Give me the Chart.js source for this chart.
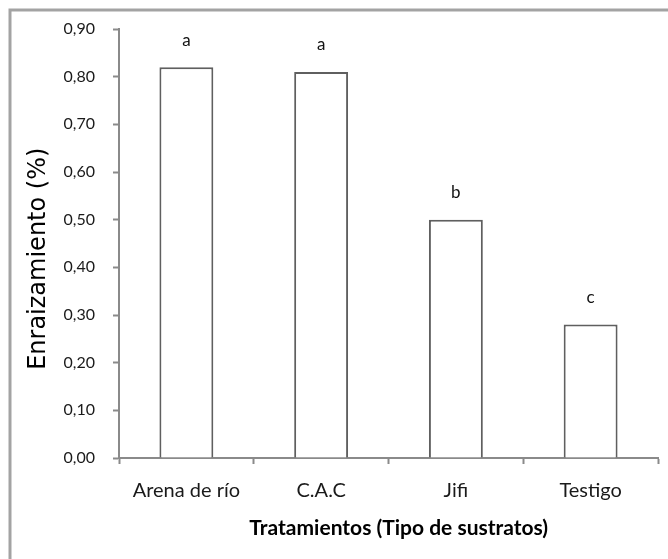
<!DOCTYPE html>
<html>
<head>
<meta charset="utf-8">
<script src="https://cdn.jsdelivr.net/npm/chart.js@4"></script>
<style>
  body { margin: 0; background: #fff; }
  #wrap { position: relative; width: 668px; height: 559px; }
</style>
</head>
<body>
<div id="wrap"><canvas id="myChart"></canvas></div>
<script>
// data
const categories = ['Arena de río', 'C.A.C', 'Jifi', 'Testigo'];
const enraizamiento = [0.82, 0.81, 0.50, 0.28];
const letras = ['a', 'a', 'b', 'c'];

// grey frame around the whole figure (runs off the right and bottom edge)
const frame = {
  id: 'frame',
  beforeDraw(chart) {
    const ctx = chart.ctx;
    ctx.save();
    ctx.strokeStyle = '#a3a3a3';
    ctx.lineWidth = 3;
    ctx.strokeRect(10, 10, 720, 620);
    ctx.restore();
  }
};

// significance letters over each bar
const letters = {
  id: 'letters',
  afterDatasetsDraw(chart) {
    const ctx = chart.ctx;
    const meta = chart.getDatasetMeta(0);
    ctx.save();
    ctx.font = '17px Lato';
    ctx.fillStyle = '#111';
    ctx.textAlign = 'center';
    ctx.textBaseline = 'middle';
    meta.data.forEach((bar, i) => {
      ctx.fillText(letras[i], bar.x, bar.y - 27);
    });
    ctx.restore();
  }
};

var ctx = document.getElementById('myChart').getContext('2d');
var myChart = new Chart(ctx, {
  type: 'bar',
  data: {
    labels: categories,
    datasets: [{
      data: enraizamiento,
      backgroundColor: '#ffffff',
      borderColor: '#5f5f5f',
      borderWidth: 2,
      barPercentage: 0.4,
      categoryPercentage: 1.0
    }]
  },
  plugins: [frame, letters],
  options: {
    responsive: true,
    maintainAspectRatio: false,
    animation: false,
    layout: { padding: { top: 29, right: 10, left: 0, bottom: 0 } },
    plugins: {
      legend: { display: false },
      tooltip: { enabled: false }
    },
    scales: {
      x: {
        afterFit(scale) { scale.height = 101; },
        grid: {
          display: true,
          drawOnChartArea: false,
          drawTicks: true,
          tickLength: 6,
          tickWidth: 2,
          color: '#8a8a8a',
          offset: true
        },
        border: { color: '#8a8a8a', width: 2 },
        ticks: {
          color: '#1a1a1a',
          font: { family: 'Lato', size: 20 },
          padding: 15
        },
        title: {
          display: true,
          // leading spaces nudge the title a little right, as in the original
          text: '    Tratamientos (Tipo de sustratos)',
          color: '#000',
          font: { family: 'Lato', size: 21, weight: 'bold' },
          padding: { top: 0, bottom: 18 }
        }
      },
      y: {
        min: 0,
        max: 0.9,
        afterFit(scale) { scale.width = 119; },
        grid: {
          display: true,
          drawOnChartArea: false,
          drawTicks: true,
          tickLength: 6,
          tickWidth: 2,
          color: '#8a8a8a'
        },
        border: { color: '#8a8a8a', width: 2 },
        ticks: {
          stepSize: 0.1,
          color: '#1a1a1a',
          font: { family: 'Lato', size: 16 },
          padding: 18,
          callback: (v) => v.toFixed(2).replace('.', ',')
        },
        title: {
          display: true,
          // trailing spaces nudge the title a little down
          text: 'Enraizamiento (%)    ',
          color: '#000',
          font: { family: 'DejaVu Sans', size: 24 },
          padding: { top: 24, bottom: 0 }
        }
      }
    }
  }
});
</script>
</body>
</html>
